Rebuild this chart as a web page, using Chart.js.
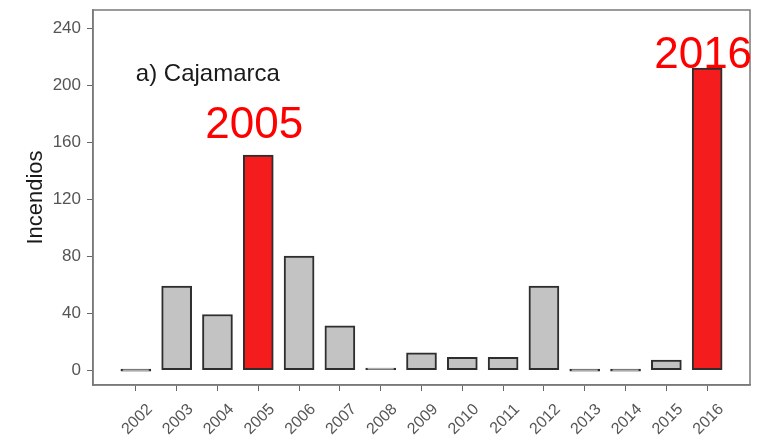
<!DOCTYPE html>
<html>
<head>
<meta charset="utf-8">
<script src="https://cdn.jsdelivr.net/npm/chart.js@4/dist/chart.umd.min.js"></script>
<style>
  html, body { margin: 0; padding: 0; background: #ffffff; }
  #wrap { width: 769px; height: 448px; }
</style>
</head>
<body>
<div id="wrap"><canvas id="c" width="769" height="448"></canvas></div>
<script>
// ---- data ----
const years = [2002, 2003, 2004, 2005, 2006, 2007, 2008, 2009, 2010, 2011, 2012, 2013, 2014, 2015, 2016];
const incendios = [0, 59, 39, 151, 80, 31, 1, 12, 9, 9, 59, 0, 0, 7, 212];
const highlightYears = [2005, 2016];
const yTicks = [0, 40, 80, 120, 160, 200, 240];
const panelLabel = 'a) Cajamarca';
const yTitle = 'Incendios';

const GRAY = '#c3c3c3';
const RED = '#f41c1c';

const points = years.map((y, i) => ({ x: y, y: incendios[i] }));
const fills = years.map(y => highlightYears.includes(y) ? RED : GRAY);

const textPlugin = {
  id: 'texts',
  afterDatasetsDraw(chart) {
    const { ctx, chartArea } = chart;
    const xs = chart.scales.x, ys = chart.scales.y;
    ctx.save();
    // panel border
    ctx.strokeStyle = '#7a7a7a';
    ctx.lineWidth = 1.5;
    ctx.strokeRect(chartArea.left, chartArea.top, chartArea.right - chartArea.left, chartArea.bottom - chartArea.top);
    // panel label
    ctx.fillStyle = '#1a1a1a';
    ctx.font = '24px "Liberation Sans", Arial, sans-serif';
    ctx.textAlign = 'left';
    ctx.textBaseline = 'alphabetic';
    ctx.fillText(panelLabel, xs.getPixelForValue(2002), ys.getPixelForValue(203));
    // highlight annotations
    ctx.fillStyle = '#ff0000';
    ctx.font = '44px "Liberation Sans", Arial, sans-serif';
    ctx.textAlign = 'center';
    highlightYears.forEach(yr => {
      const v = incendios[years.indexOf(yr)];
      const off = yr === 2005 ? 12 : 0;
      ctx.fillText(String(yr), xs.getPixelForValue(yr) - 4, ys.getPixelForValue(v + off));
    });
    ctx.restore();
  }
};

new Chart(document.getElementById('c'), {
  type: 'bar',
  data: {
    datasets: [{
      data: points,
      backgroundColor: fills,
      borderColor: '#2e2e2e',
      borderWidth: 2,
      borderSkipped: false,
      barThickness: 30,
      minBarLength: 2
    }]
  },
  options: {
    responsive: false,
    animation: false,
    devicePixelRatio: 1,
    layout: { padding: { top: 10, right: 19, left: 0, bottom: 0 } },
    plugins: { legend: { display: false }, tooltip: { enabled: false } },
    scales: {
      x: {
        type: 'linear',
        offset: false,
        min: 2000.95,
        max: 2017.05,
        afterBuildTicks: s => { s.ticks = years.map(v => ({ value: v })); },
        afterFit: s => { s.height = 63; s.paddingLeft = 0; s.paddingRight = 0; },
        grid: { offset: false, drawOnChartArea: false, drawTicks: true, tickLength: 6, color: '#666666', lineWidth: 1 },
        border: { display: true, color: '#7a7a7a', width: 1.5 },
        ticks: {
          color: '#555555',
          font: { family: '"Liberation Sans", Arial, sans-serif', size: 16 },
          minRotation: 45, maxRotation: 45,
          padding: 9,
          labelOffset: 14,
          autoSkip: false,
          callback: v => String(v)
        }
      },
      y: {
        min: -10.5,
        max: 252.8,
        afterBuildTicks: s => { s.ticks = yTicks.map(v => ({ value: v })); },
        afterFit: s => { s.width = 93; s.paddingTop = 0; s.paddingBottom = 0; },
        grid: { drawOnChartArea: false, drawTicks: true, tickLength: 6, color: '#666666', lineWidth: 1 },
        border: { display: true, color: '#7a7a7a', width: 1.5 },
        ticks: {
          color: '#555555',
          font: { family: '"Liberation Sans", Arial, sans-serif', size: 17 },
          padding: 6
        },
        title: {
          display: true,
          text: yTitle,
          color: '#1a1a1a',
          font: { family: '"Liberation Sans", Arial, sans-serif', size: 22 },
          padding: { top: 23, bottom: 0 }
        }
      }
    }
  },
  plugins: [textPlugin]
});
</script>
</body>
</html>
